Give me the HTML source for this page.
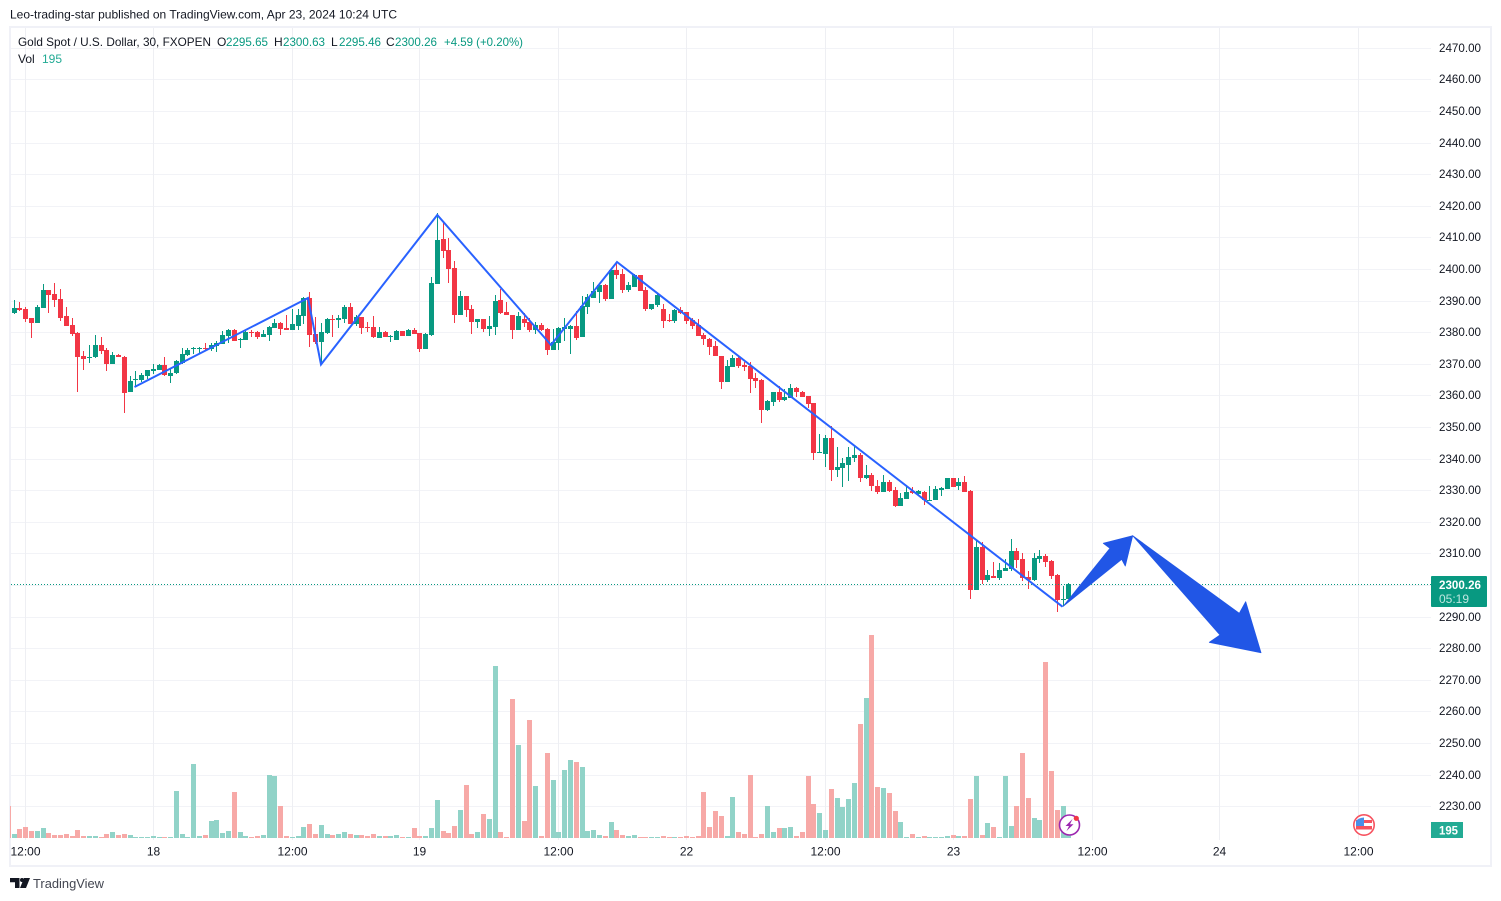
<!DOCTYPE html>
<html lang="en">
<head>
<meta charset="utf-8">
<title>Gold Spot / U.S. Dollar chart</title>
<style>
html,body{margin:0;padding:0;background:#fff;width:1501px;height:901px;overflow:hidden}
svg{display:block;font-family:"Liberation Sans",sans-serif}
</style>
</head>
<body>
<svg id="chart" xmlns="http://www.w3.org/2000/svg" width="1501" height="901" viewBox="0 0 1501 901">
  <rect x="0" y="0" width="1501" height="901" fill="#ffffff"/>
  <text x="10" y="18.5" font-size="12" fill="#131722" textLength="387" lengthAdjust="spacingAndGlyphs">Leo-trading-star published on TradingView.com, Apr 23, 2024 10:24 UTC</text>
  <rect x="10" y="27" width="1481" height="839" fill="none" stroke="#f0f1f7" stroke-width="2"/>
  <g id="grid" shape-rendering="crispEdges"></g>
  <g id="volumes" shape-rendering="crispEdges"></g>
  <g id="candles" shape-rendering="crispEdges"></g>
  <line x1="11" y1="584.5" x2="1431" y2="584.5" stroke="#089981" stroke-width="1" stroke-dasharray="1 2"/>
  <polyline points="134.5,387 308,298 321,364.5 437.3,215 551,345 617,262 1062.5,606.7" fill="none" stroke="#2962ff" stroke-width="2"/>
  <polygon points="1063,606.5 1110,548.3 1103.3,543.3 1132.7,535.7 1125.3,566 1121.7,559.3" fill="#2156e6" stroke="#2156e6" stroke-width="0.8" stroke-linejoin="round"/>
  <polygon points="1132.7,535.7 1239.3,613.3 1245.7,601.7 1261,652.7 1209.3,642.3 1220,635" fill="#2156e6" stroke="#2156e6" stroke-width="0.8" stroke-linejoin="round"/>
  <g font-size="12">
    <text x="18" y="46" fill="#131722" textLength="193" lengthAdjust="spacingAndGlyphs">Gold Spot / U.S. Dollar, 30, FXOPEN</text>
    <text x="217" y="46" fill="#131722">O</text>
    <text x="226" y="46" fill="#089981" textLength="42" lengthAdjust="spacingAndGlyphs">2295.65</text>
    <text x="274" y="46" fill="#131722">H</text>
    <text x="283" y="46" fill="#089981" textLength="42" lengthAdjust="spacingAndGlyphs">2300.63</text>
    <text x="331" y="46" fill="#131722">L</text>
    <text x="339" y="46" fill="#089981" textLength="42" lengthAdjust="spacingAndGlyphs">2295.46</text>
    <text x="386" y="46" fill="#131722">C</text>
    <text x="395" y="46" fill="#089981" textLength="42" lengthAdjust="spacingAndGlyphs">2300.26</text>
    <text x="444" y="46" fill="#089981" textLength="79" lengthAdjust="spacingAndGlyphs">+4.59 (+0.20%)</text>
    <text x="18" y="63" fill="#131722">Vol</text>
    <text x="42" y="63" fill="#22ab94">195</text>
  </g>
  <g id="priceAxis" font-size="12" fill="#131722"></g>
  <g id="timeAxis" font-size="12" fill="#131722" text-anchor="middle"></g>
  <g>
    <rect x="1431" y="576" width="56" height="31" rx="1" fill="#089981"/>
    <text x="1439" y="589" font-size="12" font-weight="bold" fill="#ffffff" textLength="42" lengthAdjust="spacingAndGlyphs">2300.26</text>
    <text x="1439" y="603" font-size="12" fill="#bfe6df" textLength="30" lengthAdjust="spacingAndGlyphs">05:19</text>
  </g>
  <g>
    <rect x="1431" y="822" width="32" height="16" fill="#22ab94"/>
    <text x="1439" y="834.5" font-size="12" font-weight="bold" fill="#ffffff" textLength="19" lengthAdjust="spacingAndGlyphs">195</text>
  </g>
  <g>
    <circle cx="1069.5" cy="825" r="10" fill="#ffffff" stroke="#9c27b0" stroke-width="1.6"/>
    <path d="M1072.5 819 L1065.5 826 L1069 826 L1066.5 831 L1073.5 824.2 L1070 824.2 Z" fill="#9c27b0"/>
    <circle cx="1076.3" cy="818.3" r="2.6" fill="#f23645"/>
  </g>
  <g>
    <circle cx="1364" cy="825" r="10.2" fill="#ffffff" stroke="#f7525f" stroke-width="1.6"/>
    <rect x="1356" y="820" width="16" height="3" fill="#f7525f"/>
    <rect x="1356" y="826" width="16" height="3.5" fill="#f7525f"/>
    <path d="M1356 826 L1356 821 Q1358 818 1364 817.5 L1364 826 Z" fill="#4a8fe8"/>
  </g>
  <g>
    <path d="M10 878 H19.5 V888 H15 V882.2 H10 Z M24 878 H30 L26 888 H20 Z" fill="#131722"/>
    <circle cx="22" cy="880" r="2" fill="#131722"/>
    <text x="33" y="888" font-size="13" fill="#434651" textLength="71" lengthAdjust="spacingAndGlyphs">TradingView</text>
  </g>
</svg>
<script>
const opens = [
2386.0,2387.6,2387.2,2384.4,2382.8,2387.6,2393.3,2392.0,2390.4,2385.0,
2382.2,2379.6,2372.4,2371.7,2372.0,2375.9,2374.3,2369.8,2372.7,2372.0,
2361.0,2364.8,2364.8,2366.0,2367.6,2367.9,2369.5,2366.0,2367.0,2370.1,
2372.7,2374.6,2374.6,2374.9,2374.6,2375.5,2376.2,2378.7,2380.6,2377.4,
2377.4,2380.0,2380.0,2378.4,2379.0,2381.2,2382.8,2381.2,2380.6,2381.9,
2385.0,2390.7,2379.3,2376.8,2379.6,2384.1,2383.8,2384.1,2387.9,2382.5,
2384.7,2381.5,2381.5,2378.1,2380.0,2378.6,2377.4,2380.3,2378.7,2380.6,
2379.6,2374.6,2379.0,2395.2,2409.4,2405.9,2400.2,2385.3,2391.3,2387.2,
2383.1,2384.1,2380.9,2381.5,2390.1,2386.3,2385.3,2380.6,2384.1,2383.1,
2380.6,2382.2,2380.9,2374.3,2376.5,2380.9,2380.9,2381.9,2378.4,2387.9,
2390.7,2392.6,2394.8,2390.4,2399.6,2398.3,2393.3,2394.2,2398.0,2393.3,
2387.2,2388.5,2387.2,2383.8,2383.4,2386.9,2386.3,2383.8,2382.2,2379.0,
2377.8,2375.5,2372.4,2364.1,2368.9,2371.7,2369.5,2369.2,2365.4,2364.8,
2355.3,2357.8,2361.0,2358.4,2359.1,2362.2,2361.0,2359.7,2357.5,2341.7,
2341.4,2346.4,2336.3,2336.9,2337.9,2340.1,2341.0,2333.8,2334.7,2331.2,
2329.3,2332.5,2330.0,2324.9,2327.1,2329.6,2328.7,2329.3,2326.5,2326.8,
2330.0,2330.3,2333.8,2331.2,2332.5,2329.6,2298.3,2311.9,2301.5,2302.8,
2302.1,2304.3,2305.0,2310.7,2308.1,2302.4,2301.5,2308.1,2309.1,2307.5,
2303.1,2295.2,2295.65];
const highs = [
2390.1,2389.5,2387.9,2384.4,2388.5,2395.2,2393.3,2395.5,2393.6,2387.9,
2384.4,2380.0,2374.0,2375.9,2379.0,2378.4,2374.9,2373.6,2373.0,2372.4,
2366.0,2367.6,2367.0,2367.9,2369.8,2369.8,2372.0,2368.2,2371.1,2374.9,
2374.9,2375.2,2375.2,2376.5,2376.5,2377.1,2380.3,2380.9,2380.9,2378.1,
2380.3,2380.6,2380.3,2380.6,2381.9,2384.1,2383.1,2385.3,2387.2,2387.2,
2391.0,2392.6,2384.7,2382.8,2384.4,2385.3,2385.3,2388.5,2389.1,2385.3,
2384.7,2383.1,2385.0,2381.5,2380.3,2379.0,2380.6,2380.3,2380.9,2381.2,
2379.6,2379.6,2397.4,2417.6,2414.8,2409.7,2402.4,2392.9,2391.3,2388.5,
2384.1,2384.1,2385.0,2391.7,2393.6,2389.5,2385.3,2386.3,2386.0,2384.4,
2383.1,2382.8,2381.2,2380.9,2381.5,2384.4,2382.2,2386.6,2391.3,2392.0,
2395.8,2395.5,2395.2,2400.2,2402.1,2399.9,2395.8,2398.3,2398.0,2394.2,
2388.8,2392.0,2388.8,2385.7,2387.2,2387.9,2386.3,2384.4,2384.1,2379.6,
2378.1,2377.1,2372.4,2371.1,2372.7,2372.0,2370.5,2370.5,2367.0,2365.1,
2358.4,2361.0,2362.9,2361.9,2363.5,2362.6,2361.3,2359.7,2357.5,2347.7,
2347.4,2350.2,2343.6,2340.1,2343.6,2343.9,2341.7,2337.9,2335.3,2333.1,
2334.7,2333.1,2330.9,2329.0,2331.5,2330.9,2330.0,2329.6,2331.2,2331.2,
2330.9,2333.8,2333.8,2333.8,2334.4,2330.0,2314.1,2313.5,2304.6,2307.2,
2306.9,2308.1,2314.5,2311.6,2310.0,2304.3,2310.0,2311.0,2309.7,2307.8,
2303.4,2299.6,2300.63];
const lows = [
2385.7,2386.6,2383.1,2378.1,2382.8,2387.6,2386.0,2387.9,2383.4,2381.9,
2378.7,2361.0,2367.9,2370.1,2371.7,2373.0,2367.6,2369.8,2372.0,2354.3,
2361.0,2362.6,2364.1,2365.1,2366.7,2367.9,2366.0,2363.8,2366.7,2369.8,
2372.4,2373.0,2373.0,2374.0,2374.0,2373.6,2376.2,2376.5,2377.1,2374.9,
2377.4,2378.4,2377.8,2378.4,2377.1,2381.2,2379.0,2380.6,2380.6,2380.6,
2382.5,2375.2,2376.2,2370.5,2379.3,2378.4,2381.2,2382.8,2382.5,2381.9,
2379.3,2380.0,2378.1,2378.1,2378.4,2376.8,2377.4,2378.7,2378.7,2379.3,
2373.6,2374.6,2378.7,2395.2,2403.4,2395.5,2382.8,2385.3,2384.7,2379.3,
2381.2,2380.0,2378.7,2379.0,2385.7,2385.3,2377.8,2380.6,2381.5,2380.0,
2379.3,2380.3,2372.7,2374.3,2374.3,2377.1,2373.0,2377.4,2378.4,2385.7,
2390.7,2389.1,2389.8,2390.4,2396.7,2392.3,2392.6,2394.2,2392.9,2386.6,
2386.9,2387.9,2381.2,2383.1,2382.8,2385.7,2382.5,2380.9,2378.7,2375.9,
2372.7,2372.4,2361.9,2364.1,2368.9,2368.6,2367.6,2360.7,2362.2,2351.2,
2355.0,2356.5,2357.8,2358.1,2359.1,2359.4,2359.4,2355.9,2339.5,2341.7,
2337.2,2332.8,2334.1,2330.9,2332.8,2338.8,2332.5,2333.4,2329.6,2328.7,
2329.3,2329.3,2324.6,2324.9,2327.1,2328.7,2328.4,2325.2,2326.5,2326.8,
2328.1,2330.3,2330.9,2330.0,2329.3,2295.5,2298.3,2300.2,2300.9,2302.1,
2301.5,2304.3,2304.3,2305.3,2301.2,2298.6,2301.2,2306.9,2305.6,2301.8,
2291.4,2293.3,2295.46];
const closes = [
2387.6,2386.9,2384.1,2382.8,2387.9,2393.3,2391.7,2390.1,2384.4,2381.9,
2379.3,2372.0,2371.4,2372.0,2375.9,2374.0,2369.8,2372.7,2372.0,2360.7,
2364.5,2365.1,2366.4,2367.9,2368.2,2369.5,2366.4,2367.0,2370.8,2373.0,
2374.3,2374.9,2374.9,2374.6,2375.9,2376.5,2379.0,2380.6,2377.1,2377.8,
2380.0,2379.6,2378.4,2379.3,2381.5,2382.8,2380.9,2380.6,2382.5,2385.3,
2390.7,2379.0,2376.8,2380.0,2384.1,2383.8,2384.4,2387.9,2382.5,2384.7,
2381.2,2381.2,2378.4,2380.0,2378.4,2378.7,2380.3,2378.7,2380.6,2379.3,
2374.6,2379.3,2395.5,2409.1,2405.6,2399.9,2385.3,2391.3,2386.9,2383.1,
2384.1,2380.9,2381.9,2389.8,2386.0,2385.3,2380.6,2385.0,2382.8,2380.6,
2382.2,2380.6,2374.3,2376.8,2381.2,2381.5,2381.9,2378.1,2388.2,2391.0,
2392.9,2394.8,2390.4,2399.6,2398.0,2393.3,2394.8,2398.0,2392.9,2387.2,
2388.8,2391.7,2383.4,2383.4,2386.9,2386.0,2383.4,2381.9,2378.7,2377.8,
2375.2,2372.4,2364.1,2369.2,2371.7,2369.2,2368.9,2365.1,2364.4,2355.3,
2358.1,2361.0,2358.4,2359.4,2362.2,2361.0,2359.4,2357.2,2341.7,2342.0,
2346.4,2336.3,2337.2,2338.5,2340.4,2341.0,2333.8,2334.7,2331.2,2329.3,
2332.5,2329.6,2324.9,2327.4,2329.3,2329.0,2329.6,2326.8,2326.8,2330.3,
2330.6,2333.8,2330.9,2332.5,2329.3,2298.3,2311.9,2301.5,2303.1,2302.1,
2304.6,2305.3,2310.7,2307.8,2302.1,2301.5,2308.4,2309.1,2307.2,2302.8,
2295.2,2295.5,2300.26];
const volumes = [
100,225,275,175,175,250,125,75,75,100,50,200,50,50,50,25,100,150,75,100,
75,25,25,25,50,25,25,25,1175,100,25,1850,50,75,425,450,125,175,1150,150,
50,25,50,75,1575,1550,800,50,25,50,275,350,100,325,100,75,100,150,100,75,
75,50,100,50,50,50,75,25,25,250,50,50,250,950,175,125,300,700,1325,100,
150,600,475,4300,150,25,3475,2325,425,2950,1300,50,2125,1450,150,1700,1950,1900,1775,175,
200,75,50,400,200,75,50,75,25,25,25,25,50,25,25,25,50,25,50,1150,
275,675,550,50,1025,150,100,1575,25,100,800,150,250,250,275,50,150,1550,850,625,
200,1225,1000,775,975,1375,2850,3500,5075,1275,1250,1125,675,400,25,100,25,50,25,25,
25,50,75,50,50,975,1550,75,375,275,25,1550,300,800,2125,1000,500,450,4400,1675,
700,800,195];
const priceTicks = [2470,2460,2450,2440,2430,2420,2410,2400,2390,2380,2370,2360,2350,2340,2330,2320,2310,2300,2290,2280,2270,2260,2250,2240,2230];
const timeTickBars = [2,24,48,70,94,116,140,162,186,208,232];
const timeTickLabels = ['12:00','18','12:00','19','12:00','22','12:00','23','12:00','24','12:00'];

const NS = 'http://www.w3.org/2000/svg';
function xBar(i){ return Math.floor(14.1 + 5.796 * i); }
function yPrice(p){ return 47.7 + (2470 - p) * 3.1604; }
function yVolume(v){ return 838 - v / 25; }
function make(tag, parent, attrs){
  const el = document.createElementNS(NS, tag);
  for (const k in attrs) el.setAttribute(k, attrs[k]);
  parent.appendChild(el);
  return el;
}
const gridG = document.getElementById('grid');
const volG = document.getElementById('volumes');
const candleG = document.getElementById('candles');
const priceG = document.getElementById('priceAxis');
const timeG = document.getElementById('timeAxis');

priceTicks.forEach(function(p){
  const line = make('rect', gridG, {x:11, y:Math.round(yPrice(p)), width:1420, height:1, fill:'#f2f3f7'});
  
  
  if (p !== 2300) {
    const t = make('text', priceG, {x:1439, y:Math.round(yPrice(p)) + 4, textLength:42, lengthAdjust:'spacingAndGlyphs'});
    t.textContent = p.toFixed(2);
    
    
  }
});
timeTickBars.forEach(function(b, k){
  const line = make('rect', gridG, {x:xBar(b), y:28, width:1, height:812, fill:'#eeeff3'});
  
  
  const t = make('text', timeG, {x:xBar(b) + 0.5, y:855.5});
  t.textContent = timeTickLabels[k];
  
  
});

const clipped = make('rect', volG, {x:10, y:yVolume(800), width:1, height:838 - yVolume(800), fill:'#f7a9a7'});



volumes.forEach(function(v, i){
  const up = closes[i] >= opens[i];
  const top = Math.round(yVolume(v));
  const bar = make('rect', volG, {x:xBar(i) - 2, y:top, width:5, height:Math.max(1, 838 - top), fill: up ? '#91d3c8' : '#f7a9a7'});
  
  
});

opens.forEach(function(o, i){
  const c = closes[i];
  const up = c >= o;
  const col = up ? '#089981' : '#f23645';
  const cx = xBar(i);
  const yh = Math.round(yPrice(highs[i]));
  const yl = Math.round(yPrice(lows[i]));
  const bt = Math.round(yPrice(Math.max(o, c)));
  const bb = Math.round(yPrice(Math.min(o, c)));
  const wick = make('rect', candleG, {x:cx, y:yh, width:1, height:Math.max(1, yl - yh), fill:col});
  
  
  const body = make('rect', candleG, {x:cx - 2, y:bt, width:5, height:Math.max(1, bb - bt), fill:col});
  
  
});
</script>
</body>
</html>
